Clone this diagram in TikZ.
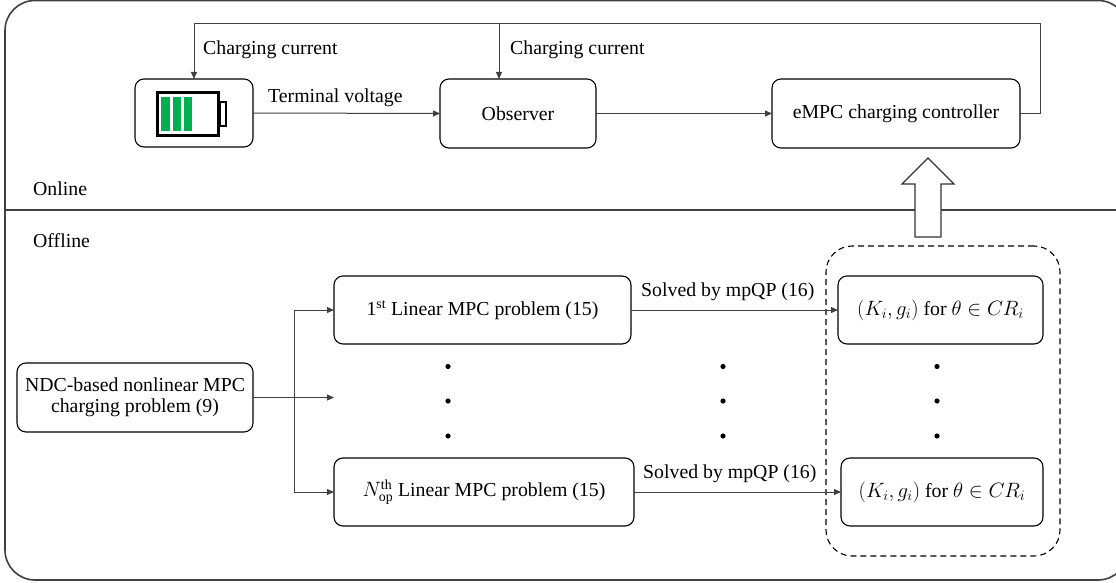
\documentclass[tikz,border=0pt]{standalone}
\usepackage{fontspec}
\setmainfont{Liberation Serif}
\usetikzlibrary{arrows.meta}
\definecolor{batgreen}{HTML}{00B050}
\begin{document}
\begin{tikzpicture}[x=1pt,y=-1pt,
  font=\fontsize{19.8}{23}\selectfont,
  box/.style={draw=black,line width=1.1pt,rounded corners=9pt,inner sep=0pt,outer sep=0pt,align=center},
  conn/.style={draw=black!75,line width=1pt},
  arr/.style={conn,-{Triangle[length=7pt,width=6pt]}},
  lbl/.style={inner sep=0pt,anchor=base west},
  dotmark/.style={fill=black}]
\useasboundingbox (0,0) rectangle (1116,583);
% outer frame
\draw[black!75,line width=1.6pt,rounded corners=30pt] (5,0.5) rectangle (1128,580);
\draw[black!75,line width=1.2pt] (5,210) -- (1128,210);
\node[lbl] (online) at (33,195) {Online};
\node[lbl] (offline) at (33,247) {Offline};
% online blocks
\node[box,minimum width=118pt,minimum height=68pt] (bat) at (194,113) {};
\node[box,minimum width=156pt,minimum height=69pt] (obs) at (518,113.5) {Observer};
\node[box,minimum width=248pt,minimum height=69pt] (empc) at (896,113.5) {eMPC charging controller};
% battery icon
\draw[line width=3pt] (157.5,92.5) rectangle (218.5,135.5);
\draw[line width=2.2pt] (219.5,102) rectangle (226,126);
\fill[batgreen] (161,97) rectangle (170,131);
\fill[batgreen] (173,97) rectangle (181,131);
\fill[batgreen] (184,97) rectangle (192,131);
% online connectors
\draw[arr] (bat.east) -- (obs.west);
\node[lbl] (tv) at (268,103) {Terminal voltage};
\draw[arr] (obs.east) -- (empc.west);
\coordinate (fbR) at (1040,24);
\coordinate (obsTop) at (499,24);
\draw[arr] (empc.east) -| (fbR) -| (bat.north);
\draw[arr] (obsTop) -- (obsTop |- obs.north);
\node[lbl] (cc1) at (203,55) {Charging current};
\node[lbl] (cc2) at (510,55) {Charging current};
% offline blocks
\node[box,minimum width=236pt,minimum height=69pt] (ndc) at (135,397.5) {NDC-based nonlinear MPC\\[-2pt]charging problem (9)};
\node[box,minimum width=297pt,minimum height=68pt] (first) at (482.5,310) {1\textsuperscript{st} Linear MPC problem (15)};
\node[box,minimum width=300pt,minimum height=68pt] (nth) at (484,492) {$N_{\mathrm{op}}^{\mathrm{th}}$ Linear MPC problem (15)};
\node[box,minimum width=205pt,minimum height=68pt] (k1) at (940.5,310) {$(K_i,g_i)$ for $\theta\in CR_i$};
\node[box,minimum width=202pt,minimum height=68pt] (k2) at (942,492) {\raisebox{-5pt}{$(K_i,g_i)$ for $\theta\in CR_i$}};
\node[draw=black,line width=1.1pt,dash pattern=on 6pt off 4pt,rounded corners=26pt,inner sep=0pt,minimum width=234pt,minimum height=310pt] (grp) at (943,401) {};
% offline connectors
\coordinate (br) at (294,397.5);
\coordinate (midend) at (334,397.5);
\draw[conn] (ndc.east) -- (br);
\draw[arr] (br) -- (midend);
\draw[arr] (br) |- (first.west);
\draw[arr] (br) |- (nth.west);
\draw[arr] (first.east) -- (k1.west);
\draw[arr] (nth.east) -- (k2.west);
\node[lbl] (s1) at (641,296) {Solved by mpQP (16)};
\node[lbl] (s2) at (643,478) {Solved by mpQP (16)};
% dots
\foreach \xx in {448,723,937}{
  \foreach \yy in {366.5,401,436}{
    \fill[dotmark] (\xx,\yy) circle (2.6pt);
  }
}
% hollow arrow
\draw[black!80,line width=1.1pt,fill=white] (915,237) -- (915,184) -- (902,184) -- (928,158) -- (954,184) -- (941,184) -- (941,237) -- cycle;
\end{tikzpicture}
\end{document}
